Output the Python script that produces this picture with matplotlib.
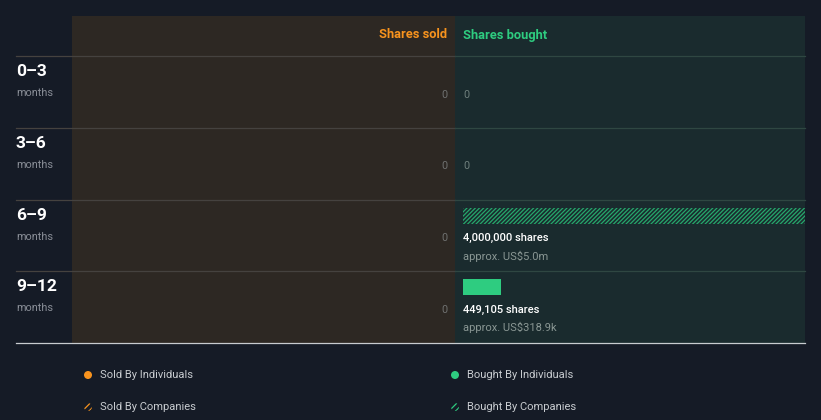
import matplotlib
matplotlib.use("Agg")
import matplotlib.pyplot as plt
from matplotlib.patches import Rectangle, Circle

plt.rcParams['font.family'] = ['Roboto', 'DejaVu Sans']
plt.rcParams['hatch.linewidth'] = 0.9

# ---- data ----
periods = ["0–3", "3–6", "6–9", "9–12"]
sold_individuals = [0, 0, 0, 0]
sold_companies = [0, 0, 0, 0]
bought_individuals = [0, 0, 0, 449105]
bought_companies = [0, 0, 4000000, 0]
bought_shares_labels = ["0", "0", "4,000,000 shares", "449,105 shares"]
bought_value_labels = ["", "", "approx. US$5.0m", "approx. US$318.9k"]
sold_labels = ["0", "0", "0", "0"]
legend_labels = ["Sold By Individuals", "Bought By Individuals",
                 "Sold By Companies", "Bought By Companies"]

BG = "#151b26"
SOLD_BG = "#2d2823"
BOUGHT_BG = "#1a2b2e"
ORANGE = "#f7931e"
GREEN = "#2ecc80"
HATCH_GREEN = "#26a86c"
W, H = 821, 420

fig = plt.figure(figsize=(W / 100, H / 100), dpi=100)
fig.patch.set_facecolor(BG)
ax = fig.add_axes([0, 0, 1, 1])
ax.set_xlim(0, W)
ax.set_ylim(H, 0)
ax.axis("off")

# panels
x_left, x_mid, x_right = 72, 455, 805
y_top, y_head, row_h = 16, 56, 71.75
ax.add_patch(Rectangle((x_left, y_top), x_mid - x_left, 343 - y_top, color=SOLD_BG, lw=0))
ax.add_patch(Rectangle((x_mid, y_top), x_right - x_mid, 343 - y_top, color=BOUGHT_BG, lw=0))

ax.text(447, 35, "Shares sold", color=ORANGE, fontsize=9.3, fontweight="bold",
        ha="right", va="center")
ax.text(463, 35, "Shares bought", color=GREEN, fontsize=9.3, fontweight="bold",
        ha="left", va="center")

for i, p in enumerate(periods):
    yt = y_head + i * row_h
    ax.plot([16, x_mid], [yt, yt], color="#45423f", lw=0.9)
    ax.plot([x_mid, x_right], [yt, yt], color="#2f4742", lw=0.9)
    ax.text(16, yt + 15.5, p, color="white", fontsize=12.5, fontweight="bold",
            ha="left", va="center")
    ax.text(16, yt + 37, "months", color="#8a8f98", fontsize=7.8, ha="left", va="center")
    ax.text(447, yt + 38.5, sold_labels[i], color="#6f7170", fontsize=7.8,
            ha="right", va="center")
    if bought_individuals[i] == 0 and bought_companies[i] == 0:
        ax.text(463, yt + 38.5, bought_shares_labels[i], color="#6f7f7c", fontsize=7.8,
                ha="left", va="center")
    else:
        ax.text(463, yt + 38.5, bought_shares_labels[i], color="white", fontsize=8,
                fontweight="medium", ha="left", va="center")
        ax.text(463, yt + 56.5, bought_value_labels[i], color="#8a9794", fontsize=8,
                ha="left", va="center")
ax.plot([16, x_right], [343, 343], color="#c8ccd0", lw=0.9)

# bars through their own axes
axb = fig.add_axes([463 / W, (H - 343) / H, (x_right - 463) / W, (343 - y_head) / H])
axb.set_xlim(0, max(bought_companies + bought_individuals))
axb.set_ylim(len(periods) - 0.5, -0.5)
axb.axis("off")
ys = [i - 0.5 + 8 / row_h for i in range(len(periods))]
axb.barh(ys, bought_individuals, height=16 / row_h, align="edge", color=GREEN, lw=0)
axb.barh(ys, bought_companies, height=16 / row_h, align="edge", facecolor="none",
         edgecolor=HATCH_GREEN, hatch="////////", lw=0)

# legend
pos = [(88, 375), (455, 375), (88, 407), (455, 407)]
cols = [ORANGE, GREEN, ORANGE, GREEN]
for k, (lab, (x, y), c) in enumerate(zip(legend_labels, pos, cols)):
    if k < 2:
        ax.add_patch(Circle((x, y), 4, color=c, lw=0))
    else:
        ax.add_patch(Circle((x, y), 4, facecolor="none", edgecolor=c, hatch="/////", lw=0))
    ax.text(x + 12, y, lab, color="#c8ccd0", fontsize=8, ha="left", va="center")

fig.savefig("out.png", dpi=100, facecolor=BG)
